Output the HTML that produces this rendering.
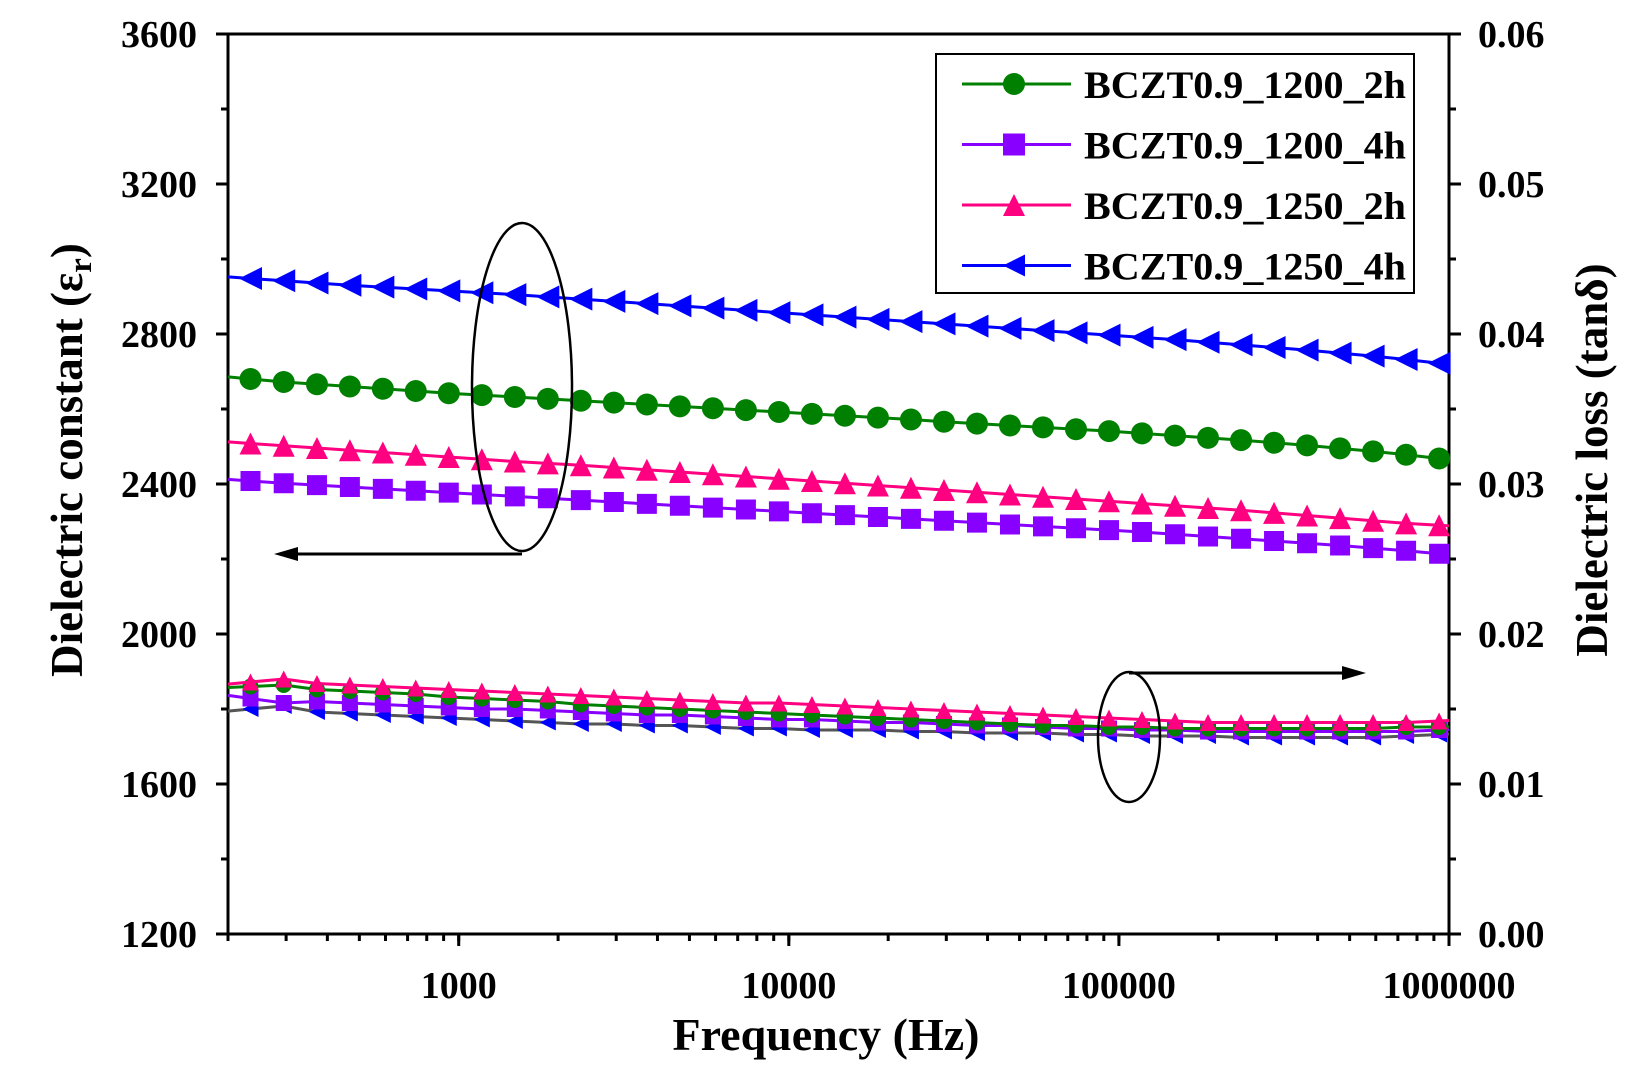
<!DOCTYPE html>
<html><head><meta charset="utf-8"><style>
body{margin:0;background:#fff}
text{font-family:"Liberation Serif",serif;font-weight:bold}
</style></head><body>
<svg id="chart" width="1639" height="1073" xmlns="http://www.w3.org/2000/svg"></svg>
<script>
const freqs=[234,295,372,468,589,741,933,1175,1479,1862,2344,2951,3715,4677,5888,7413,9333,11749,14791,18621,23442,29512,37154,46774,58884,74131,93325,117490,147911,186209,234423,295121,371535,467735,588844,741310,933254];
const epsG=[2680,2672,2666,2660,2654,2648,2642,2637,2632,2627,2622,2617,2612,2607,2602,2597,2592,2587,2582,2577,2572,2566,2561,2556,2551,2546,2541,2535,2529,2523,2517,2510,2503,2495,2487,2478,2468];
const epsP=[2408,2402,2397,2392,2387,2382,2377,2372,2367,2362,2357,2352,2347,2342,2337,2332,2327,2322,2317,2312,2307,2302,2297,2292,2287,2282,2277,2272,2266,2260,2254,2248,2242,2236,2229,2222,2214];
const epsK=[2508,2502,2496,2490,2484,2478,2472,2466,2460,2455,2450,2444,2438,2432,2426,2420,2414,2408,2402,2396,2390,2384,2378,2372,2366,2360,2354,2348,2342,2336,2330,2323,2316,2309,2302,2295,2290];
const epsB=[2948,2942,2936,2930,2925,2920,2915,2910,2905,2899,2893,2887,2881,2875,2869,2863,2857,2851,2845,2839,2833,2827,2821,2815,2809,2803,2797,2791,2785,2778,2771,2764,2757,2749,2741,2732,2722];
const lossK=[0.0168,0.0170,0.0167,0.0166,0.0165,0.0164,0.0163,0.0162,0.0161,0.0160,0.0159,0.0158,0.0157,0.0156,0.0155,0.0154,0.0154,0.0153,0.0152,0.0151,0.0150,0.0149,0.0148,0.0147,0.0146,0.0145,0.0144,0.0143,0.0142,0.0141,0.0141,0.0141,0.0141,0.0141,0.0141,0.0141,0.0142];
const lossG=[0.0165,0.0166,0.0163,0.0162,0.0161,0.0160,0.0158,0.0157,0.0156,0.0155,0.0153,0.0152,0.0151,0.0150,0.0149,0.0148,0.0147,0.0146,0.0145,0.0144,0.0143,0.0142,0.0141,0.0140,0.0139,0.0139,0.0138,0.0138,0.0137,0.0137,0.0137,0.0137,0.0137,0.0137,0.0137,0.0138,0.0138];
const lossP=[0.0157,0.0154,0.0155,0.0154,0.0153,0.0152,0.0151,0.0150,0.0150,0.0149,0.0148,0.0147,0.0146,0.0146,0.0145,0.0144,0.0143,0.0143,0.0142,0.0141,0.0141,0.0140,0.0139,0.0139,0.0138,0.0137,0.0137,0.0136,0.0136,0.0135,0.0135,0.0135,0.0135,0.0135,0.0135,0.0135,0.0136];
const lossB=[0.0150,0.0152,0.0148,0.0147,0.0146,0.0145,0.0144,0.0143,0.0142,0.0141,0.0140,0.0140,0.0139,0.0139,0.0138,0.0137,0.0137,0.0136,0.0136,0.0136,0.0135,0.0135,0.0134,0.0134,0.0134,0.0133,0.0133,0.0132,0.0132,0.0132,0.0131,0.0131,0.0131,0.0131,0.0131,0.0132,0.0133];
const leftTicks=[1200,1600,2000,2400,2800,3200,3600];
const rightTicks=["0.00","0.01","0.02","0.03","0.04","0.05","0.06"];
const xTicks=[1000,10000,100000,1000000];
const legendNames=["BCZT0.9_1200_2h","BCZT0.9_1200_4h","BCZT0.9_1250_2h","BCZT0.9_1250_4h"];

const NS="http://www.w3.org/2000/svg",svg=document.getElementById('chart');
const L=228,R=1449,T=34,B=934;
const x=f=>L+(Math.log10(f)-Math.log10(200))/(6-Math.log10(200))*(R-L);
const yL=v=>B-(v-1200)/2400*(B-T);
const yR=v=>B-v/0.06*(B-T);
function el(tag,attrs,parent){const e=document.createElementNS(NS,tag);for(const k in attrs)e.setAttribute(k,attrs[k]);(parent||svg).appendChild(e);return e;}
function marker(shape,cx,cy,s,color,g){
  if(shape==='circle')return el('circle',{cx,cy,r:s/2,fill:color},g);
  if(shape==='square')return el('rect',{x:cx-s/2,y:cy-s/2,width:s,height:s,fill:color},g);
  if(shape==='up')return el('polygon',{points:`${cx},${cy-s/2} ${cx+s/2},${cy+s/2} ${cx-s/2},${cy+s/2}`,fill:color},g);
  return el('polygon',{points:`${cx-s/2},${cy} ${cx+s/2},${cy-s/2} ${cx+s/2},${cy+s/2}`,fill:color},g);
}
function series(vals,yf,color,lineColor,shape,size,name){
  const g=el('g',{});
  
  
  const ex=[[200,vals[0]+(vals[0]-vals[1])*0.7],...freqs.map((f,i)=>[f,vals[i]]),[1000000,vals[vals.length-1]+(vals[vals.length-1]-vals[vals.length-2])*0.3]];
  el('polyline',{points:ex.map(p=>x(p[0])+','+yf(p[1])).join(' '),fill:'none',stroke:lineColor,'stroke-width':3},g);
  freqs.forEach((f,i)=>{const m=marker(shape,x(f),yf(vals[i]),size,color,g);
    
    });
}
const frame=el('rect',{x:L,y:T,width:R-L,height:B-T,fill:'none',stroke:'#000','stroke-width':3});


for(let v=1200;v<=3600;v+=200){const maj=v%400===0;el('line',{x1:L-(maj?12:7),x2:L,y1:yL(v),y2:yL(v),stroke:'#000','stroke-width':3});
 el('line',{x1:R,x2:R+(maj?12:7),y1:yL(v),y2:yL(v),stroke:'#000','stroke-width':3});}
leftTicks.forEach(v=>{const t=el('text',{x:197,y:yL(v)+13,'text-anchor':'end','font-size':38});t.textContent=v;
 
 });
rightTicks.forEach((v,i)=>{const t=el('text',{x:1478,y:yL(1200+i*400)+13,'font-size':38});t.textContent=v;
 
 });
for(let d=100;d<=100000;d*=10)for(let k=1;k<=10;k++){const f=d*k;if(f<200||f>1000000)continue;const maj=(k===10);
 el('line',{x1:x(f),x2:x(f),y1:B,y2:B+(maj?12:7),stroke:'#000','stroke-width':3});}
xTicks.forEach(f=>{const t=el('text',{x:x(f),y:998,'text-anchor':'middle','font-size':38});t.textContent=f;
 
 });
let t=el('text',{x:826,y:1050,'text-anchor':'middle','font-size':46});t.textContent='Frequency (Hz)';

t=el('text',{transform:'translate(82,460) rotate(-90)','text-anchor':'middle','font-size':45});
t.innerHTML='Dielectric constant (ε<tspan dy="9" font-size="33">r</tspan><tspan dy="-9">)</tspan>';

t=el('text',{transform:'translate(1607,460) rotate(-90)','text-anchor':'middle','font-size':45});t.textContent='Dielectric loss (tanδ)';

series(lossB,yR,'#0000ff','#555','left',16,'loss-1250-4h');
series(lossP,yR,'#8800ff','#8800ff','square',16,'loss-1200-4h');
series(lossG,yR,'#008000','#008000','circle',16,'loss-1200-2h');
series(lossK,yR,'#ff0080','#ff0080','up',17,'loss-1250-2h');
series(epsG,yL,'#008000','#008000','circle',22,'eps-1200-2h');
series(epsP,yL,'#8800ff','#8800ff','square',20,'eps-1200-4h');
series(epsK,yL,'#ff0080','#ff0080','up',22,'eps-1250-2h');
series(epsB,yL,'#0000ff','#0000ff','left',23,'eps-1250-4h');
el('ellipse',{cx:522,cy:387,rx:50,ry:164,fill:'none',stroke:'#000','stroke-width':2.5});
el('polyline',{points:'522,554 284,554',fill:'none',stroke:'#000','stroke-width':3});
el('polygon',{points:'274,554 298,547 298,561',fill:'#000'});
el('ellipse',{cx:1129,cy:737,rx:31,ry:65,fill:'none',stroke:'#000','stroke-width':2.5});
el('polyline',{points:'1129,673 1354,673',fill:'none',stroke:'#000','stroke-width':3});
el('polygon',{points:'1366,673 1342,666 1342,680',fill:'#000'});
const lg=el('g',{});


el('rect',{x:936,y:54,width:478,height:239,fill:'#fff',stroke:'#000','stroke-width':2},lg);
const lc=['#008000','#8800ff','#ff0080','#0000ff'],ls=['circle','square','up','left'];
legendNames.forEach((n,i)=>{const yy=84+i*60.5;const g=el('g',{},lg);
 
 
 el('line',{x1:962,x2:1071,y1:yy,y2:yy,stroke:lc[i],'stroke-width':3},g);
 marker(ls[i],1014,yy,22,lc[i],g);
 const tx=el('text',{x:1084,y:yy+14,'font-size':39,textLength:322,lengthAdjust:'spacingAndGlyphs'},g);tx.textContent=n;});
</script>
</body></html>
